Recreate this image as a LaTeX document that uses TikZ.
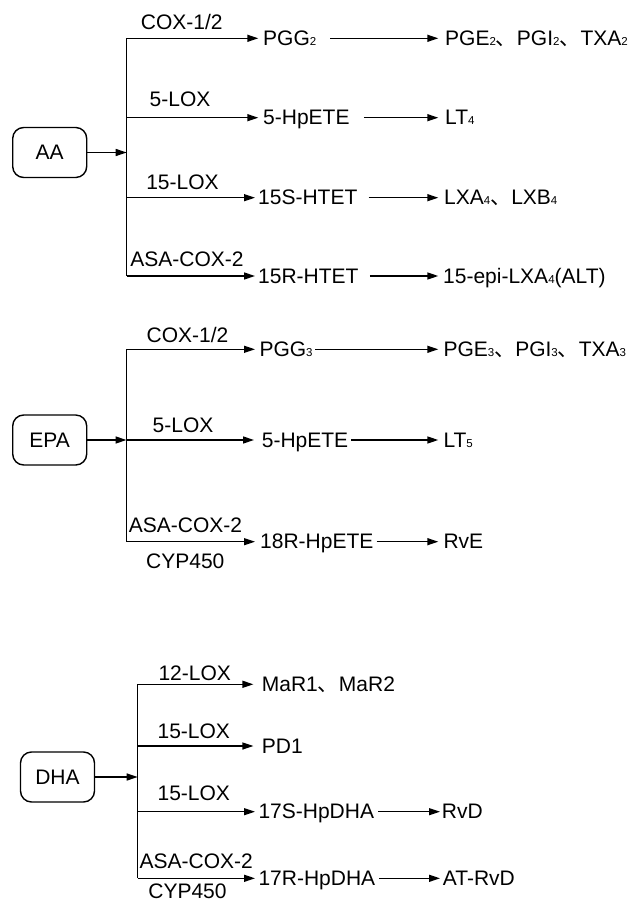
\documentclass[tikz,border=0pt]{standalone}
\usepackage{fontspec}
\setmainfont{Liberation Sans}
\newfontfamily\cjk{Noto Sans CJK SC}
\usetikzlibrary{arrows.meta}
\newcommand\lsub[1]{{\fontsize{11.5}{11.5}\selectfont #1}}
\newcommand\dun{{\cjk 、}}
\begin{document}
\begin{tikzpicture}[x=1pt,y=-1pt,
  every node/.style={font=\fontsize{21}{24}\selectfont},
  src/.style={draw,line width=1.4pt,rounded corners=11pt,minimum width=74pt,minimum height=50pt,inner sep=0pt},
  prod/.style={anchor=west,inner xsep=0pt,inner ysep=0pt,text height=14pt,text depth=0pt},
  enz/.style={anchor=base,inner sep=0pt},
  ln/.style={line width=1.4pt},
  arr/.style={line width=1.4pt,-{Triangle[length=11pt,width=7pt]}}]
\useasboundingbox (0,0) rectangle (633,901);

% ---------- AA ----------
\node[src] (aa) at (49.7,152.5) {AA};
\coordinate (aa1) at (126.7,38.3);
\coordinate (aa2) at (126.7,117.7);
\coordinate (aa3) at (126.7,197.7);
\coordinate (aa4) at (126.7,276);
\coordinate (aain) at (126.7,152.5);
\draw[ln] (aa1) -- (aa4);
\draw[arr] (aa) -- (aain);
\node[prod] (pgg2) at (263,38.3) {PGG\lsub{2}};
\node[prod] (hpa) at (263,117.7) {5-HpETE};
\node[prod] (s15) at (258,197.7) {15S-HTET};
\node[prod] (r15) at (258,276) {15R-HTET};
\node[prod] (pge2) at (445,38.3) {PGE\lsub{2}\dun PGI\lsub{2}\dun TXA\lsub{2}};
\node[prod] (lt4) at (445,117.7) {LT\lsub{4}};
\node[prod] (lxa4) at (444,197.7) {LXA\lsub{4}\dun LXB\lsub{4}};
\node[prod] (alt) at (443,276) {15-epi-LXA\lsub{4}(ALT)};
\draw[arr,shorten >=4.7pt] (aa1) -- (pgg2);
\draw[arr,shorten >=4.7pt] (aa2) -- (hpa);
\draw[arr,shorten >=3pt] (aa3) -- (s15);
\draw[arr,shorten >=3pt] (aa4) -- (r15);
\draw[arr,shorten <=14pt,shorten >=6.7pt] (pgg2) -- (pge2);
\draw[arr,shorten <=14pt,shorten >=6.7pt] (hpa) -- (lt4);
\draw[arr,shorten <=11pt,shorten >=5.7pt] (s15) -- (lxa4);
\draw[arr,shorten <=11pt,shorten >=4.7pt] (r15) -- (alt);
\node[enz] (aal1) at (181.7,29.3) {COX-1/2};
\node[enz] (aal2) at (180,106.7) {5-LOX};
\node[enz] (aal3) at (182.5,190) {15-LOX};
\node[enz] (aal4) at (187,266.7) {ASA-COX-2};

% ---------- EPA ----------
\node[src] (epa) at (49.7,440) {EPA};
\coordinate (ep1) at (126.5,349.3);
\coordinate (ep2) at (126.5,440);
\coordinate (ep3) at (126.5,541.7);
\draw[ln] (ep1) -- (ep3);
\draw[arr] (epa) -- (ep2);
\node[prod] (pgg3) at (259.3,349.3) {PGG\lsub{3}};
\node[prod] (hpe) at (261.7,440) {5-HpETE};
\node[prod] (r18) at (260,541.7) {18R-HpETE};
\node[prod] (pge3) at (443.3,349.3) {PGE\lsub{3}\dun PGI\lsub{3}\dun TXA\lsub{3}};
\node[prod] (lt5) at (443.3,440) {LT\lsub{5}};
\node[prod] (rve) at (443.3,541.7) {RvE};
\draw[arr,shorten >=4.3pt] (ep1) -- (pgg3);
\draw[arr,shorten >=7.7pt] (ep2) -- (hpe);
\draw[arr,shorten >=5pt] (ep3) -- (r18);
\draw[arr,shorten <=2.5pt,shorten >=5pt] (pgg3) -- (pge3);
\draw[arr,shorten <=3pt,shorten >=5pt] (hpe) -- (lt5);
\draw[arr,shorten <=3pt,shorten >=5pt] (r18) -- (rve);
\node[enz] (epl1) at (187.5,342.7) {COX-1/2};
\node[enz] (epl2) at (183,432.7) {5-LOX};
\node[enz] (epl3) at (185.5,532.3) {ASA-COX-2};
\node[enz] (epl4) at (185.3,568.3) {CYP450};

% ---------- DHA ----------
\node[src] (dha) at (57.5,777) {DHA};
\coordinate (dh1) at (137.7,684.3);
\coordinate (dh2) at (137.7,746);
\coordinate (dh3) at (137.7,811.7);
\coordinate (dh4) at (137.7,878.3);
\coordinate (dhin) at (137.7,777);
\draw[ln] (dh1) -- (dh4);
\draw[arr] (dha) -- (dhin);
\node[prod] (mar) at (261.7,684.3) {MaR1\dun MaR2};
\node[prod] (pd1) at (261.7,746) {PD1};
\node[prod] (s17) at (258.3,811.7) {17S-HpDHA};
\node[prod] (r17) at (258.3,878.3) {17R-HpDHA};
\node[prod] (rvd) at (441.7,811.7) {RvD};
\node[prod] (atrvd) at (442.7,878.3) {AT-RvD};
\draw[arr,shorten >=8.3pt] (dh1) -- (mar);
\draw[arr,shorten >=8.3pt] (dh2) -- (pd1);
\draw[arr,shorten >=3.3pt] (dh3) -- (s17);
\draw[arr,shorten >=3.3pt] (dh4) -- (r17);
\draw[arr,shorten <=4pt,shorten >=1.7pt] (s17) -- (rvd);
\draw[arr,shorten <=4pt,shorten >=2.7pt] (r17) -- (atrvd);
\node[enz] (dhl1) at (194.7,680) {12-LOX};
\node[enz] (dhl2) at (193.8,738.3) {15-LOX};
\node[enz] (dhl3) at (193.8,800) {15-LOX};
\node[enz] (dhl4) at (196.3,868.3) {ASA-COX-2};
\node[enz] (dhl5) at (187.5,898) {CYP450};
\end{tikzpicture}
\end{document}
